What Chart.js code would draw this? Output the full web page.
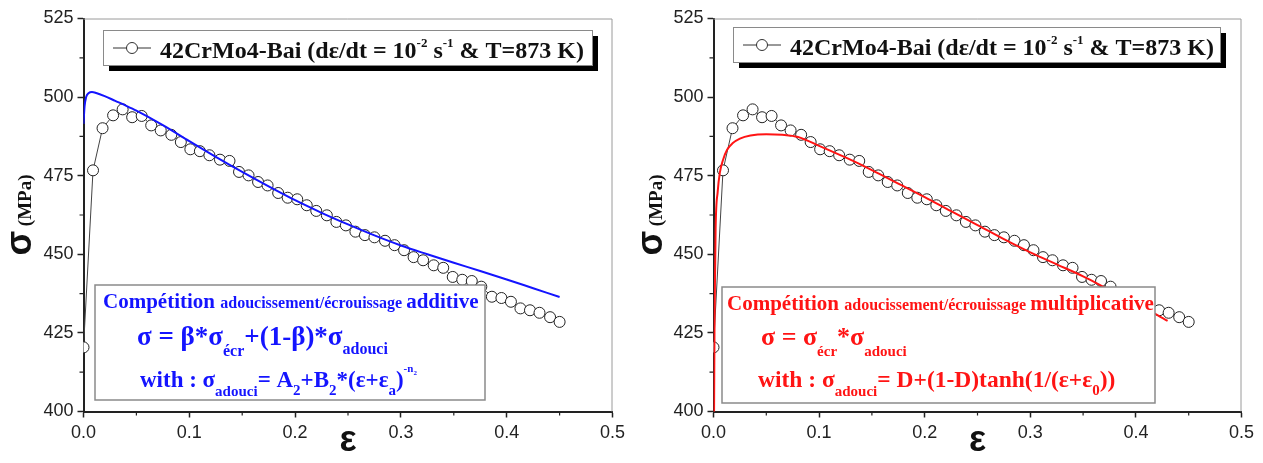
<!DOCTYPE html>
<html>
<head>
<meta charset="utf-8">
<script src="https://cdn.jsdelivr.net/npm/chart.js@4/dist/chart.umd.min.js"></script>
<style>
  body { margin: 0; background: #fff; }
  #wrap { display: flex; width: 1263px; height: 463px; }
</style>
</head>
<body>
<div id="wrap">
  <canvas id="leftChart" width="631" height="463"></canvas>
  <canvas id="rightChart" width="632" height="463"></canvas>
</div>
<script>
// experimental points 42CrMo4-Bai (strain, stress in MPa)
const strain = [0, 0.009, 0.018, 0.028, 0.037, 0.046, 0.055, 0.064, 0.073, 0.083,
  0.092, 0.101, 0.110, 0.119, 0.129, 0.138, 0.147, 0.156, 0.165, 0.174,
  0.184, 0.193, 0.202, 0.211, 0.220, 0.230, 0.239, 0.248, 0.257, 0.266,
  0.275, 0.285, 0.294, 0.303, 0.312, 0.321, 0.331, 0.340, 0.349, 0.358,
  0.367, 0.376, 0.386, 0.395, 0.404, 0.413, 0.422, 0.431, 0.441, 0.450];
const stress = [420.4, 476.7, 490.1, 494.2, 496.1, 493.6, 494.0, 491.0, 489.4, 488.0,
  485.7, 483.4, 482.8, 481.5, 480.1, 479.7, 476.2, 475.1, 473.0, 471.9,
  469.5, 468.0, 467.5, 465.6, 463.8, 462.4, 460.3, 459.2, 457.2, 456.1,
  455.4, 454.3, 452.9, 451.3, 449.1, 448.1, 446.5, 445.7, 442.8, 441.9,
  441.5, 439.7, 436.5, 436.1, 434.9, 432.8, 432.2, 431.4, 430.0, 428.5];

// additive model curve (blue)
const addX = [0, 0.001, 0.0025, 0.005, 0.008, 0.012, 0.02, 0.03, 0.04, 0.05, 0.075, 0.1,
  0.125, 0.15, 0.175, 0.2, 0.225, 0.25, 0.275, 0.3, 0.325, 0.35, 0.375, 0.4, 0.425, 0.45];
const addY = [491.5, 497, 500, 501.3, 501.6, 501.3, 500.3, 498.8, 497.3, 495.7, 491.1, 486,
  481, 476.2, 471.6, 467.2, 463.2, 459.5, 456, 452.8, 450, 447.3, 444.7, 442, 439.2, 436.4];

// multiplicative model curve (red)
const mulX = [0.0004, 0.001, 0.002, 0.004, 0.006, 0.009, 0.013, 0.018, 0.025, 0.035, 0.05,
  0.065, 0.08, 0.1, 0.125, 0.15, 0.175, 0.2, 0.225, 0.25, 0.275, 0.3, 0.325, 0.35, 0.375, 0.4, 0.43];
const mulY = [390, 430, 458, 470, 476, 480, 483.3, 485.3, 486.8, 487.8, 488.2,
  488, 487.3, 484.5, 480.8, 476.8, 472.5, 468.2, 463.7, 459.3, 454.8, 450.6, 446.8, 443, 438.7, 434.5, 428.8];

const xTicks = [0, 0.1, 0.2, 0.3, 0.4, 0.5];
const yTicks = [400, 425, 450, 475, 500, 525];
const seriesName = '42CrMo4-Bai';

const SERIF = '"Liberation Serif", "DejaVu Serif", serif';
const SANS = '"Liberation Sans", Arial, sans-serif';

function drawRich(ctx, x, y, parts, color) {
  ctx.fillStyle = color;
  ctx.textAlign = 'left';
  ctx.textBaseline = 'alphabetic';
  parts.forEach(p => {
    ctx.font = 'bold ' + p.s + 'px ' + (p.f || SERIF);
    ctx.fillText(p.t, x, y + (p.dy || 0));
    x += ctx.measureText(p.t).width;
  });
  return x;
}

// frame, minor ticks, axis titles, legend and formula box
function decorPlugin(cfg) {
  return {
    id: 'decor',
    beforeDatasetsDraw(chart) {
      const ctx = chart.ctx, a = chart.chartArea;
      const xs = chart.scales.x, ys = chart.scales.y;
      ctx.save();
      ctx.strokeStyle = '#9a9a9a';
      ctx.lineWidth = 1;
      ctx.beginPath();
      ctx.moveTo(a.left, a.top + 0.5); ctx.lineTo(a.right - 0.5, a.top + 0.5); ctx.lineTo(a.right - 0.5, a.bottom);
      ctx.stroke();
      ctx.strokeStyle = '#222';
      ctx.lineWidth = 1.2;
      ctx.beginPath();
      for (let v = 0.05; v < 0.5; v += 0.1) {
        const px = xs.getPixelForValue(v);
        ctx.moveTo(px, a.bottom); ctx.lineTo(px, a.bottom + 4);
      }
      for (let v = 412.5; v < 525; v += 25) {
        const py = ys.getPixelForValue(v);
        ctx.moveTo(a.left, py); ctx.lineTo(a.left - 4, py);
      }
      ctx.stroke();
      // axis titles
      ctx.fillStyle = '#111';
      ctx.font = 'bold 36px ' + SANS;
      ctx.textAlign = 'center';
      ctx.textBaseline = 'alphabetic';
      ctx.fillText('ε', (a.left + a.right) / 2, 451);
      ctx.translate(31, (a.top + a.bottom) / 2);
      ctx.rotate(-Math.PI / 2);
      ctx.font = 'bold 36px ' + SANS;
      const w1 = ctx.measureText('σ').width;
      ctx.font = 'bold 19px ' + SERIF;
      const w2 = ctx.measureText(' (MPa)').width;
      drawRich(ctx, -(w1 + w2) / 2, 0, [{t: 'σ', s: 36, f: SANS}, {t: ' (MPa)', s: 19}], '#111');
      ctx.restore();
    },
    afterDatasetsDraw(chart) {
      const ctx = chart.ctx;
      ctx.save();
      // legend with shadow
      const L = cfg.legend;
      ctx.fillStyle = '#000';
      ctx.fillRect(L.x + 6, L.y + 6, L.w, L.h);
      ctx.fillStyle = '#fff';
      ctx.fillRect(L.x, L.y, L.w, L.h);
      ctx.strokeStyle = '#8a8a8a';
      ctx.lineWidth = 1;
      ctx.strokeRect(L.x + 0.5, L.y + 0.5, L.w, L.h);
      const cy = L.y + 18;
      ctx.strokeStyle = '#333';
      ctx.beginPath();
      ctx.moveTo(L.x + 10, cy); ctx.lineTo(L.x + 48, cy);
      ctx.stroke();
      ctx.fillStyle = '#fff';
      ctx.beginPath();
      ctx.arc(L.x + 29, cy, 5.5, 0, Math.PI * 2);
      ctx.fill();
      ctx.stroke();
      drawRich(ctx, L.x + 57, L.y + 28, [
        {t: seriesName + ' (dε/dt = 10', s: 24},
        {t: '-2', s: 13, dy: -11},
        {t: ' s', s: 24},
        {t: '-1', s: 13, dy: -11},
        {t: ' & T=873 K)', s: 24}
      ], '#111');
      // formula box
      const B = cfg.box;
      ctx.fillStyle = '#fff';
      ctx.fillRect(B.x, B.y, B.w, B.h);
      ctx.strokeStyle = '#8a8a8a';
      ctx.lineWidth = 1.5;
      ctx.strokeRect(B.x, B.y, B.w, B.h);
      cfg.lines.forEach(ln => drawRich(ctx, ln.x, ln.y, ln.parts, cfg.color));
      ctx.restore();
    }
  };
}

function makeChart(id, fitX, fitY, color, cfg) {
  const ctx = document.getElementById(id).getContext('2d');
  return new Chart(ctx, {
    type: 'line',
    data: {
      datasets: [{
        label: 'fit',
        data: fitX.map((x, i) => ({x: x, y: fitY[i]})),
        borderColor: color,
        borderWidth: 2,
        pointRadius: 0,
        cubicInterpolationMode: 'monotone',
        clip: 0
      }, {
        label: seriesName,
        data: strain.map((x, i) => ({x: x, y: stress[i]})),
        borderColor: '#444',
        borderWidth: 1,
        pointRadius: 5.5,
        pointBackgroundColor: '#fff',
        pointBorderColor: '#222',
        pointBorderWidth: 1,
        clip: 0
      }]
    },
    options: {
      responsive: false,
      animation: false,
      layout: { padding: { top: 18.5, right: cfg.padRight, left: 0, bottom: 0 } },
      scales: {
        x: {
          type: 'linear',
          min: 0, max: 0.5,
          afterBuildTicks: s => { s.ticks = xTicks.map(v => ({value: v})); },
          afterFit: s => { s.height = 51.5; },
          ticks: {
            callback: v => v.toFixed(1),
            color: '#222',
            font: { family: SANS, size: 18 },
            padding: 5,
            maxRotation: 0
          },
          grid: { drawOnChartArea: false, drawTicks: true, tickLength: 6, tickColor: '#222', tickWidth: 1.5 },
          border: { color: '#222', width: 2 }
        },
        y: {
          min: 400, max: 525,
          afterBuildTicks: s => { s.ticks = yTicks.map(v => ({value: v})); },
          afterFit: s => { s.width = cfg.yWidth; },
          ticks: {
            color: '#222',
            font: { family: SANS, size: 18 },
            padding: 4
          },
          grid: { drawOnChartArea: false, drawTicks: true, tickLength: 6, tickColor: '#222', tickWidth: 1.5 },
          border: { color: '#222', width: 2 }
        }
      },
      plugins: {
        legend: { display: false },
        tooltip: { enabled: false }
      }
    },
    plugins: [decorPlugin(cfg)]
  });
}

makeChart('leftChart', addX, addY, '#1414ff', {
  padRight: 18.5,
  yWidth: 83.5,
  color: '#1414ff',
  legend: { x: 103, y: 30, w: 489, h: 35 },
  box: { x: 95, y: 285, w: 390, h: 115 },
  lines: [
    { x: 103, y: 308, parts: [{t: 'Compétition ', s: 21}, {t: 'adoucissement/écrouissage ', s: 16}, {t: 'additive', s: 21}] },
    { x: 137, y: 345, parts: [{t: 'σ = β*σ', s: 27}, {t: 'écr', s: 16, dy: 11}, {t: '+(1-β)*σ', s: 27}, {t: 'adouci', s: 16, dy: 9}] },
    { x: 140, y: 387, parts: [{t: 'with : σ', s: 23}, {t: 'adouci', s: 15, dy: 9}, {t: '= A', s: 23}, {t: '2', s: 15, dy: 8},
      {t: '+B', s: 23}, {t: '2', s: 15, dy: 8}, {t: '*(ε+ε', s: 23}, {t: 'a', s: 15, dy: 8}, {t: ')', s: 23},
      {t: '-n', s: 11, dy: -15}, {t: '2', s: 7, dy: -12}] }
  ]
});

makeChart('rightChart', mulX, mulY, '#ff1414', {
  padRight: 21.5,
  yWidth: 82.5,
  color: '#ff1414',
  legend: { x: 102, y: 27, w: 487, h: 35 },
  box: { x: 91, y: 287, w: 433, h: 116 },
  lines: [
    { x: 96, y: 310, parts: [{t: 'Compétition ', s: 21}, {t: 'adoucissement/écrouissage ', s: 16}, {t: 'multiplicative', s: 21}] },
    { x: 130, y: 345, parts: [{t: 'σ = σ', s: 26}, {t: 'écr', s: 15, dy: 11}, {t: '*σ', s: 26}, {t: 'adouci', s: 15, dy: 11}] },
    { x: 127, y: 387, parts: [{t: 'with : σ', s: 23.5}, {t: 'adouci', s: 15, dy: 9}, {t: '= D+(1-D)tanh(1/(ε+ε', s: 23.5},
      {t: '0', s: 15, dy: 8}, {t: '))', s: 23.5}] }
  ]
});
</script>
</body>
</html>
